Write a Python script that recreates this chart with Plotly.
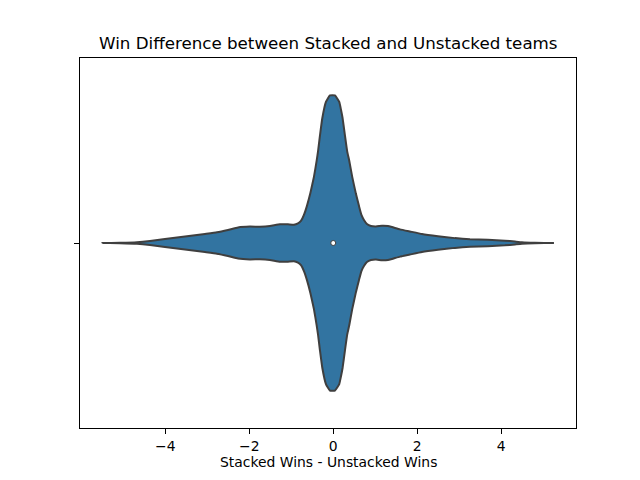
import plotly.graph_objects as go

# Win difference values (Stacked Wins - Unstacked Wins) along the violin
win_diff = [-5.495, -5.079, -4.674, -4.364, -4.007, -3.531, -3.055, -2.769, -2.507, -2.269,
            -1.983, -1.745, -1.507, -1.269, -1.079, -0.936, -0.840, -0.769, -0.698, -0.626,
            -0.543, -0.460, -0.395, -0.360, -0.317, -0.262, -0.174, -0.079, 0.040,
            0.143, 0.183, 0.224, 0.279, 0.333, 0.381, 0.452, 0.540,
            0.612, 0.671, 0.731, 0.802, 0.898, 1.017, 1.160, 1.302, 1.398, 1.588,
            1.826, 2.112, 2.493, 2.898, 3.255, 3.683, 4.088, 4.326, 4.493, 4.802, 5.255]
# Relative kernel density (peak = 1) at each of those values
density = [0.0, 0.0014, 0.0054, 0.0136, 0.027, 0.044, 0.061, 0.072, 0.088, 0.105,
           0.111, 0.110, 0.115, 0.127, 0.126, 0.123, 0.132, 0.149, 0.190, 0.251,
           0.339, 0.447, 0.556, 0.624, 0.725, 0.841, 0.953, 0.997, 0.997,
           0.953, 0.902, 0.841, 0.725, 0.617, 0.556, 0.447, 0.332,
           0.251, 0.190, 0.156, 0.129, 0.115, 0.112, 0.117, 0.115, 0.108, 0.092,
           0.078, 0.061, 0.046, 0.033, 0.026, 0.022, 0.016, 0.0095, 0.0047, 0.0014, 0.0]
median_value = 0.0
x_tick_vals = [-4, -2, 0, 2, 4]
x_tick_text = ["\u22124", "\u22122", "0", "2", "4"]
title_text = "Win Difference between Stacked and Unstacked teams"
x_label = "Stacked Wins - Unstacked Wins"

half_width = 0.4
upper = [half_width * d for d in density]
lower = [-half_width * d for d in density]
xs = win_diff + win_diff[::-1]
ys = upper + lower[::-1]

FONT = "DejaVu Sans"
fig = go.Figure()
fig.add_trace(go.Scatter(
    x=xs, y=ys, mode="lines", fill="toself", fillcolor="#3274a1",
    line=dict(color="#3f3f3f", width=2, shape="spline", smoothing=0.35),
    hoverinfo="skip", showlegend=False))
fig.add_trace(go.Scatter(
    x=[median_value], y=[0], mode="markers",
    marker=dict(color="white", size=5, line=dict(color="#3f3f3f", width=1)),
    showlegend=False))

fig.update_layout(
    width=624, height=464,
    margin=dict(l=72, r=56, t=50, b=44.4),
    paper_bgcolor="white", plot_bgcolor="white",
    font=dict(family=FONT, size=13.9, color="black"),
    xaxis=dict(range=[-6.03, 5.78], tickvals=x_tick_vals, ticktext=x_tick_text,
               showgrid=False, zeroline=False, showline=True, mirror=True,
               linecolor="black", linewidth=1, ticks="outside", ticklen=5,
               tickcolor="black", tickwidth=1),
    yaxis=dict(range=[-0.5, 0.5], tickvals=[0], ticktext=[""],
               showgrid=False, zeroline=False, showline=True, mirror=True,
               linecolor="black", linewidth=1, ticks="outside", ticklen=5,
               tickcolor="black", tickwidth=1),
    annotations=[
        dict(text=title_text, xref="paper", yref="paper", x=0.5, y=1.0395,
             xanchor="center", yanchor="middle", showarrow=False,
             font=dict(family=FONT, size=16.7, color="black")),
        dict(text=x_label, xref="paper", yref="paper", x=0.5, y=-0.093,
             xanchor="center", yanchor="middle", showarrow=False,
             font=dict(family=FONT, size=13.9, color="black")),
    ],
)
fig.write_html("out.html")
